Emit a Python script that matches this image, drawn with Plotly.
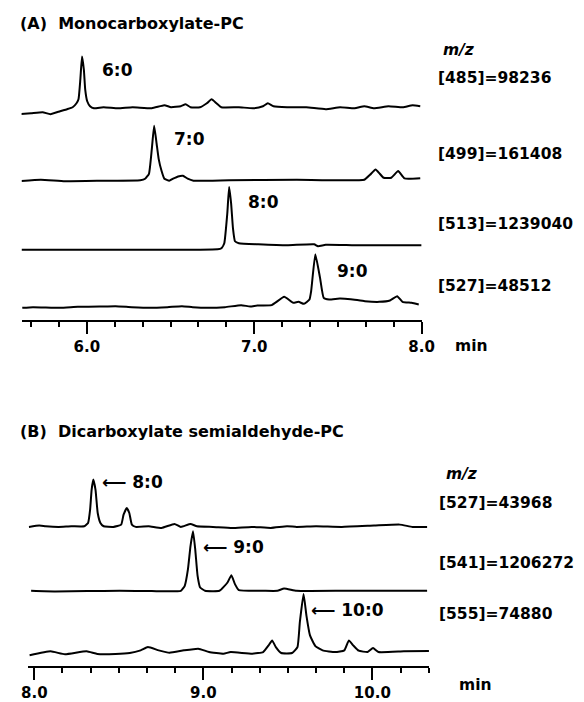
import plotly.graph_objects as go

W, H = 584, 702

# ---------------- data (time in min, relative intensity in % of trace maximum) ----------------
# Panel A: Monocarboxylate-PC
a485_t = [5.598, 5.667, 5.736, 5.782, 5.840, 5.881, 5.915, 5.938, 5.950, 5.961, 5.971, 5.982, 5.990,
          6.002, 6.019, 6.042, 6.100, 6.186, 6.273, 6.388, 6.463, 6.503, 6.561, 6.590, 6.619, 6.676,
          6.717, 6.745, 6.774, 6.803, 6.908, 6.994, 7.052, 7.081, 7.115, 7.196, 7.311, 7.427, 7.513,
          7.600, 7.658, 7.715, 7.802, 7.888, 7.946, 7.992]
a485_i = [3.3, 5, 6.7, 3.3, 8.3, 11.7, 15, 21.7, 28.3, 61.7, 100, 78.3, 45,
          25, 16.7, 13.3, 15, 13.3, 15, 13.3, 18.3, 15, 16.7, 20, 15, 15,
          21.7, 28.3, 21.7, 15, 15, 13.3, 16.7, 21.7, 16.7, 15, 15, 11.7, 15,
          13.3, 16.7, 13.3, 16.7, 15, 18.3, 16.7]

a499_t = [5.609, 5.725, 5.869, 6.100, 6.319, 6.348, 6.371, 6.388, 6.402, 6.417, 6.429, 6.446, 6.463,
          6.492, 6.515, 6.545, 6.574, 6.602, 6.637, 6.850, 7.254, 7.658, 7.692, 7.725, 7.750, 7.773,
          7.819, 7.860, 7.898, 7.992]
a499_i = [3, 5.2, 2.6, 3.5, 4.4, 7, 15.7, 59, 100, 68, 41.9, 20.9, 7,
          3.5, 7, 11, 12.2, 7, 3.5, 4.4, 5.2, 5.2, 14, 23.2, 15.7, 8.7,
          8.7, 20.4, 7.5, 7.9]

a513_t = [5.609, 5.984, 6.388, 6.677, 6.781, 6.804, 6.821, 6.839, 6.850, 6.862, 6.873, 6.885, 6.908,
          7.023, 7.196, 7.358, 7.381, 7.427, 7.600, 7.831, 8.000]
a513_i = [2.3, 2.3, 2.3, 2.3, 3.0, 4.6, 12.4, 58.7, 100, 74.2, 35.5, 15.5, 12.4,
          10.8, 9.3, 10.8, 7.7, 10, 9.3, 9.3, 9.3]

a527_t = [5.614, 5.678, 5.839, 5.946, 6.075, 6.171, 6.268, 6.375, 6.482, 6.568, 6.632, 6.717, 6.825,
          6.922, 6.976, 7.018, 7.104, 7.179, 7.233, 7.265, 7.297, 7.330, 7.340, 7.365, 7.393, 7.415,
          7.447, 7.511, 7.576, 7.661, 7.747, 7.811, 7.854, 7.886, 7.940, 7.983]
a527_i = [3, 4.2, 3, 4.8, 5.4, 6, 4.2, 3, 4.2, 6, 4.2, 3, 4.2,
          7.8, 5.4, 7.2, 7.8, 22.8, 12, 13.8, 10.2, 18, 33, 100, 57.5, 21,
          18, 19.8, 18.6, 15, 13.8, 16.2, 24, 13.8, 12, 9]

# Panel B: Dicarboxylate semialdehyde-PC
b527_t = [7.968, 8.029, 8.067, 8.143, 8.219, 8.295, 8.318, 8.330, 8.339, 8.349, 8.362, 8.375, 8.391,
          8.410, 8.467, 8.514, 8.528, 8.547, 8.562, 8.577, 8.600, 8.677, 8.753, 8.829, 8.867, 8.924,
          8.962, 9.057, 9.171, 9.286, 9.400, 9.495, 9.552, 9.667, 9.819, 10.010, 10.162, 10.238, 10.324]
b527_i = [2.1, 4.8, 3.4, 2.1, 3.4, 3.4, 10.3, 37.7, 78.8, 100, 78.8, 30.8, 10.3,
          3.4, 2.1, 6.8, 27.4, 41.1, 30.8, 6.8, 2.1, 3.4, 0, 8.2, 2.1, 8.2,
          3.4, 2.1, 0, 2.1, 0, 3.4, 2.1, 3.4, 2.1, 4.8, 6.8, 2.1, 2.1]

b541_t = [7.981, 8.124, 8.314, 8.505, 8.695, 8.867, 8.890, 8.909, 8.924, 8.939, 8.952, 8.966, 8.981,
          9.010, 9.095, 9.143, 9.166, 9.187, 9.210, 9.362, 9.438, 9.478, 9.552, 9.838, 10.124, 10.324]
b541_i = [1.6, 0.5, 1.1, 1.6, 1.1, 1.6, 9.8, 37.2, 75.4, 100, 70, 26.2, 7.1,
          1.6, 1.6, 15.3, 27.3, 12.6, 2.7, 1.6, 1.6, 5.5, 1.6, 1.6, 1.6, 1.6]

b555_t = [7.972, 8.096, 8.181, 8.309, 8.373, 8.480, 8.565, 8.629, 8.672, 8.736, 8.800, 8.885, 8.970,
          9.034, 9.119, 9.162, 9.290, 9.354, 9.386, 9.407, 9.429, 9.461, 9.525, 9.557, 9.571, 9.593,
          9.610, 9.631, 9.663, 9.706, 9.780, 9.834, 9.861, 9.887, 9.919, 9.972, 10.004, 10.036,
          10.186, 10.335]
b555_i = [1.1, 7.5, 2.7, 7.5, 3.2, 3.2, 4.8, 9.1, 14.4, 9.1, 5.3, 9.1, 11.8,
          6.4, 3.7, 6.4, 3.7, 6.4, 17.1, 25.1, 14.4, 4.8, 4.8, 14.4, 54.5, 100,
          65.2, 33.2, 16, 9.1, 6.4, 9.1, 25.1, 17.1, 8.6, 6.4, 12.8, 6.4,
          7.5, 8.0]

# labels
ion_labels_a = ["[485]=98236", "[499]=161408", "[513]=1239040", "[527]=48512"]
peak_labels_a = ["6:0", "7:0", "8:0", "9:0"]
ion_labels_b = ["[527]=43968", "[541]=1206272", "[555]=74880"]
peak_labels_b = ["\u27f5 8:0", "\u27f5 9:0", "\u27f5 10:0"]
major_ticks_a = [6.0, 7.0, 8.0]
major_ticks_b = [8.0, 9.0, 10.0]
minor_ticks_a = [5 + k / 6 for k in range(4, 18) if k % 6 != 0]
minor_ticks_b = [8 + k / 6 for k in range(1, 15) if k % 6 != 0]

# ---------------- layout geometry (pixels) ----------------
def px(x):
    return x / W

def py(y):
    return 1 - y / H

def ydom(y0, y100):
    ppu = (y0 - y100) / 100.0
    return [py(y0 + 10 * ppu), py(y100 - 10 * ppu)]

# panel A calibration: t=6 at 82.7px, 173.3 px/min ; panel B: t=8 at 28.3px, 175 px/min
a_range = [5.61, 8.0]
b_range = [7.965, 10.335]
a_dom = [px(82.7 + (a_range[0] - 6) * 173.3), px(82.7 + (a_range[1] - 6) * 173.3)]
b_dom = [px(28.3 + (b_range[0] - 8) * 175), px(28.3 + (b_range[1] - 8) * 175)]

a_traces = [(a485_t, a485_i, (117, 57)), (a499_t, a499_i, (184, 126.7)),
            (a513_t, a513_i, (253, 188.3)), (a527_t, a527_i, (311.7, 256))]
b_traces = [(b527_t, b527_i, (531.7, 483)), (b541_t, b541_i, (596, 535)),
            (b555_t, b555_i, (660.7, 598.3))]

FONT = "DejaVu Sans"
fig = go.Figure()
layout = {}
n = 0
for xa, group in (("x", a_traces), ("x2", b_traces)):
    for t, i, (y0, y100) in group:
        n += 1
        yname = "y" if n == 1 else f"y{n}"
        fig.add_trace(go.Scatter(x=t, y=i, mode="lines", xaxis=xa, yaxis=yname,
                                 line=dict(color="black", width=2, shape="spline", smoothing=0.4),
                                 showlegend=False, hoverinfo="skip"))
        key = "yaxis" if n == 1 else f"yaxis{n}"
        layout[key] = dict(domain=ydom(y0, y100), range=[-10, 110], visible=False,
                           anchor=xa, fixedrange=True)

def xax(rng, dom, pos, majors, minors):
    return dict(range=rng, domain=dom, anchor="free", position=pos,
                showline=True, linecolor="black", linewidth=2, zeroline=False, showgrid=False,
                tickmode="array", tickvals=majors, ticktext=[f"{v:.1f}" for v in majors],
                ticks="outside", ticklen=12, tickwidth=2, tickcolor="black",
                tickfont=dict(family=FONT, size=15, color="black", weight="bold"),
                minor=dict(tickmode="array", tickvals=minors, ticks="outside", ticklen=5,
                           tickwidth=1.5, tickcolor="black", showgrid=False))

layout["xaxis"] = xax(a_range, a_dom, py(323.3), major_ticks_a, minor_ticks_a)
layout["xaxis2"] = xax(b_range, b_dom, py(671.7), major_ticks_b, minor_ticks_b)

ann = []
def text(s, x, y, size=15):
    ann.append(dict(text=s, x=px(x), y=py(y), xref="paper", yref="paper", xanchor="left",
                    yanchor="middle", showarrow=False,
                    font=dict(family=FONT, size=size, color="black", weight="bold")))

text("(A)  Monocarboxylate-PC", 11, 24, 16)
text("(B)  Dicarboxylate semialdehyde-PC", 11, 435, 16)
text("<i>m/z</i>", 449, 50, 15.5)
text("<i>m/z</i>", 452, 477, 15.5)
for s, y in zip(ion_labels_a, [79, 155, 226, 288]):
    text(s, 444, y, 15.5)
for s, y in zip(ion_labels_b, [507, 567, 618]):
    text(s, 445, y, 15.5)
for s, (x, y) in zip(peak_labels_a, [(96, 71), (171, 140), (247, 203), (340, 273)]):
    text(s, x, y, 17)
for s, (x, y) in zip(peak_labels_b, [(96, 485), (201, 551), (313, 614)]):
    text(s, x, y, 17)
text("min", 462, 348, 15.5)
text("min", 466, 690, 15.5)

fig.update_layout(**layout)
fig.update_layout(width=W, height=H, margin=dict(l=0, r=0, t=0, b=0),
                  paper_bgcolor="white", plot_bgcolor="rgba(0,0,0,0)",
                  annotations=ann, showlegend=False)

fig.write_html("out.html")
